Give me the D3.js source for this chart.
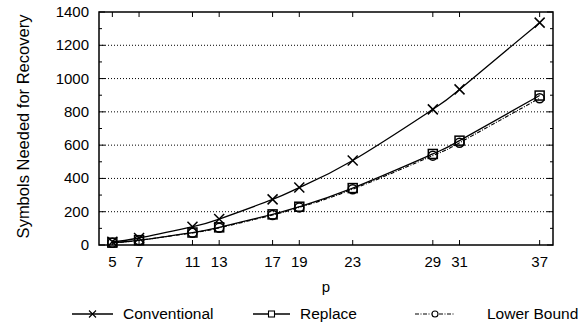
<!DOCTYPE html>
<html>
<head>
<meta charset="utf-8">
<script src="https://cdn.jsdelivr.net/npm/d3@7/dist/d3.min.js"></script>
<style>
  body { margin: 0; background: #fff; }
  text { font-family: "Liberation Sans", Arial, Helvetica, sans-serif; fill: #000; }
</style>
</head>
<body>
<div id="chart"></div>
<script>
// Data
const pValues = [5, 7, 11, 13, 17, 19, 23, 29, 31, 37];
const conventional = [20, 42, 110, 156, 274, 345, 508, 815, 935, 1336];
const replace = [14, 29, 75, 106, 184, 230, 342, 547, 627, 898];
const lowerBound = [13, 28, 73, 103, 180, 226, 335, 537, 614, 882];
const yTicks = [0, 200, 400, 600, 800, 1000, 1200, 1400];
const yMinorTicks = [100, 300, 500, 700, 900, 1100, 1300];
const seriesNames = ["Conventional", "Replace", "Lower Bound"];

const svgWidth = 586, svgHeight = 324;
const margin = {top: 12, right: 33, bottom: 79, left: 99};
const width = svgWidth - margin.left - margin.right;
const height = svgHeight - margin.top - margin.bottom;

const svg = d3.select("#chart").append("svg")
  .attr("width", svgWidth)
  .attr("height", svgHeight);

const g = svg.append("g")
  .attr("transform", "translate(" + margin.left + "," + margin.top + ")");

// Scales
const x = d3.scaleLinear().domain([4, 38]).range([0, width]);
const y = d3.scaleLinear().domain([0, 1400]).range([height, 0]);

// Dotted grid
g.selectAll(".grid")
  .data(yTicks.filter(d => d > 0 && d < 1400))
  .enter().append("line")
  .attr("class", "grid")
  .attr("x1", 0).attr("x2", width)
  .attr("y1", d => y(d)).attr("y2", d => y(d))
  .attr("stroke", "#000")
  .attr("stroke-width", 1)
  .attr("stroke-dasharray", "1,2");

// Ticks (inward, all four sides)
const tickG = g.append("g").attr("stroke", "#000").attr("stroke-width", 1);
yTicks.forEach(v => {
  tickG.append("line").attr("x1", 0).attr("x2", 6).attr("y1", y(v)).attr("y2", y(v));
  tickG.append("line").attr("x1", width).attr("x2", width - 6).attr("y1", y(v)).attr("y2", y(v));
});
yMinorTicks.forEach(v => {
  tickG.append("line").attr("x1", 0).attr("x2", 3).attr("y1", y(v)).attr("y2", y(v));
  tickG.append("line").attr("x1", width).attr("x2", width - 3).attr("y1", y(v)).attr("y2", y(v));
});
pValues.forEach(p => {
  tickG.append("line").attr("x1", x(p)).attr("x2", x(p)).attr("y1", height).attr("y2", height - 5);
  tickG.append("line").attr("x1", x(p)).attr("x2", x(p)).attr("y1", 0).attr("y2", 5);
});

// Tick labels
g.selectAll(".ylab")
  .data(yTicks)
  .enter().append("text")
  .attr("class", "ylab")
  .attr("x", -10)
  .attr("y", d => y(d) + 5)
  .attr("text-anchor", "end")
  .style("font-size", "15px")
  .text(d => d);

g.selectAll(".xlab")
  .data(pValues)
  .enter().append("text")
  .attr("class", "xlab")
  .attr("x", d => x(d))
  .attr("y", height + 22)
  .attr("text-anchor", "middle")
  .style("font-size", "15px")
  .text(d => d);

// Axis titles
g.append("text")
  .attr("x", width / 2)
  .attr("y", height + 47)
  .attr("text-anchor", "middle")
  .style("font-size", "15px")
  .text("p");

svg.append("text")
  .attr("transform", "translate(29," + (margin.top + height / 2 - 2) + ") rotate(-90)")
  .attr("text-anchor", "middle")
  .style("font-size", "16.5px")
  .text("Symbols Needed for Recovery");

// Series
const series = [
  {name: seriesNames[0], values: conventional, marker: "cross", dash: null},
  {name: seriesNames[1], values: replace, marker: "square", dash: null},
  {name: seriesNames[2], values: lowerBound, marker: "circle", dash: "4,1.5,1,1.5"}
];

const line = d3.line()
  .x(d => x(d.p))
  .y(d => y(d.v))
  .curve(d3.curveNatural);

function drawMarker(sel, type, cx, cy, r, sw) {
  if (type === "cross") {
    sel.append("path")
      .attr("d", "M" + (cx - r) + "," + (cy - r) + "L" + (cx + r) + "," + (cy + r) +
                 "M" + (cx - r) + "," + (cy + r) + "L" + (cx + r) + "," + (cy - r))
      .attr("stroke", "#000").attr("stroke-width", sw).attr("fill", "none");
  } else if (type === "square") {
    sel.append("rect")
      .attr("x", cx - r + 0.5).attr("y", cy - r + 0.5)
      .attr("width", 2 * r - 1).attr("height", 2 * r - 1)
      .attr("stroke", "#000").attr("stroke-width", sw).attr("fill", "none");
  } else {
    sel.append("circle")
      .attr("cx", cx).attr("cy", cy).attr("r", r - 0.5)
      .attr("stroke", "#000").attr("stroke-width", sw).attr("fill", "none");
  }
}

series.forEach(s => {
  const pts = pValues.map((p, i) => ({p: p, v: s.values[i]}));
  g.append("path")
    .datum(pts)
    .attr("d", line)
    .attr("fill", "none")
    .attr("stroke", "#000")
    .attr("stroke-width", s.dash ? 1.1 : 1.3)
    .attr("stroke-dasharray", s.dash);
  const mg = g.append("g");
  pts.forEach(d => drawMarker(mg, s.marker, x(d.p), y(d.v), 5, 1.5));
});

// Frame
g.append("rect")
  .attr("x", 0).attr("y", 0)
  .attr("width", width).attr("height", height)
  .attr("fill", "none")
  .attr("stroke", "#000")
  .attr("stroke-width", 1.5);

// Legend
const legendY = 314;
const legendLayout = [
  {x1: 72, x2: 113, tx: 123},
  {x1: 253, x2: 290, tx: 300},
  {x1: 415, x2: 455, tx: 487}
];
series.forEach((s, i) => {
  const L = legendLayout[i];
  const lg = svg.append("g");
  lg.append("line")
    .attr("x1", L.x1).attr("x2", L.x2)
    .attr("y1", legendY).attr("y2", legendY)
    .attr("stroke", "#000")
    .attr("stroke-width", s.dash ? 1.1 : 1.3)
    .attr("stroke-dasharray", s.dash);
  const mx = (L.x1 + L.x2) / 2;
  lg.append("rect").attr("x", mx - 3.5).attr("y", legendY - 3.5)
    .attr("width", 7).attr("height", 7).attr("fill", s.marker === "cross" ? "none" : "#fff");
  drawMarker(lg, s.marker, mx, legendY, 3.5, 1.1);
  lg.append("text")
    .attr("x", L.tx)
    .attr("y", legendY + 5)
    .style("font-size", "15.5px")
    .text(s.name);
});
</script>
</body>
</html>
